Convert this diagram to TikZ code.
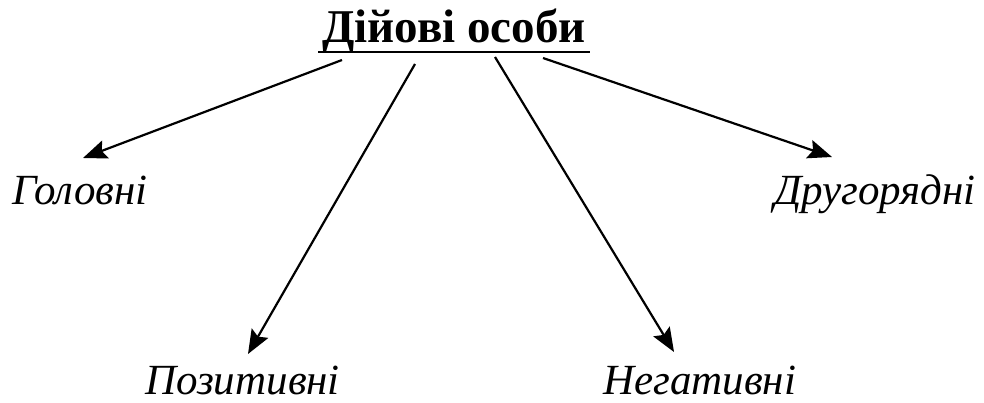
\documentclass[tikz,border=0pt]{standalone}
\usepackage{fontspec}
\setmainfont{Liberation Serif}
\usetikzlibrary{arrows.meta}

\tikzset{
  heading/.style={font=\fontsize{47}{51}\selectfont\bfseries, inner sep=0pt},
  kind/.style={font=\fontsize{43}{47}\selectfont\itshape, inner sep=0pt, anchor=base west},
  pointer/.style={line width=2.2pt, -{Stealth[length=24pt,width=19pt,inset=4pt]}},
}

\begin{document}
\begin{tikzpicture}[x=1pt,y=-1pt]
  \useasboundingbox (0,0) rectangle (984,403);

  % Heading with its underline.
  \node[heading,anchor=base] (head) at (454,43) {Дійові особи};
  \draw[line width=2.2pt] (318,52) -- (590,52);

  % Kinds of characters.
  \node[kind] (main) at (12,205) {Головні};
  \node[kind] (minor) at (774,205) {Другорядні};
  \node[kind] (good) at (145,394) {Позитивні};
  \node[kind] (bad) at (603,394) {Негативні};

  % Arrow ends.
  \coordinate (s1) at (342,60);
  \coordinate (s2) at (415,64);
  \coordinate (s3) at (495,57);
  \coordinate (s4) at (543,58);
  \coordinate (t1) at (83,158);  % above main
  \coordinate (t2) at (248,354); % above good
  \coordinate (t3) at (674,352); % above bad
  \coordinate (t4) at (832,157); % above minor

  \draw[pointer] (s1) -- (t1);
  \draw[pointer] (s2) -- (t2);
  \draw[pointer] (s3) -- (t3);
  \draw[pointer] (s4) -- (t4);

\end{tikzpicture}
\end{document}
